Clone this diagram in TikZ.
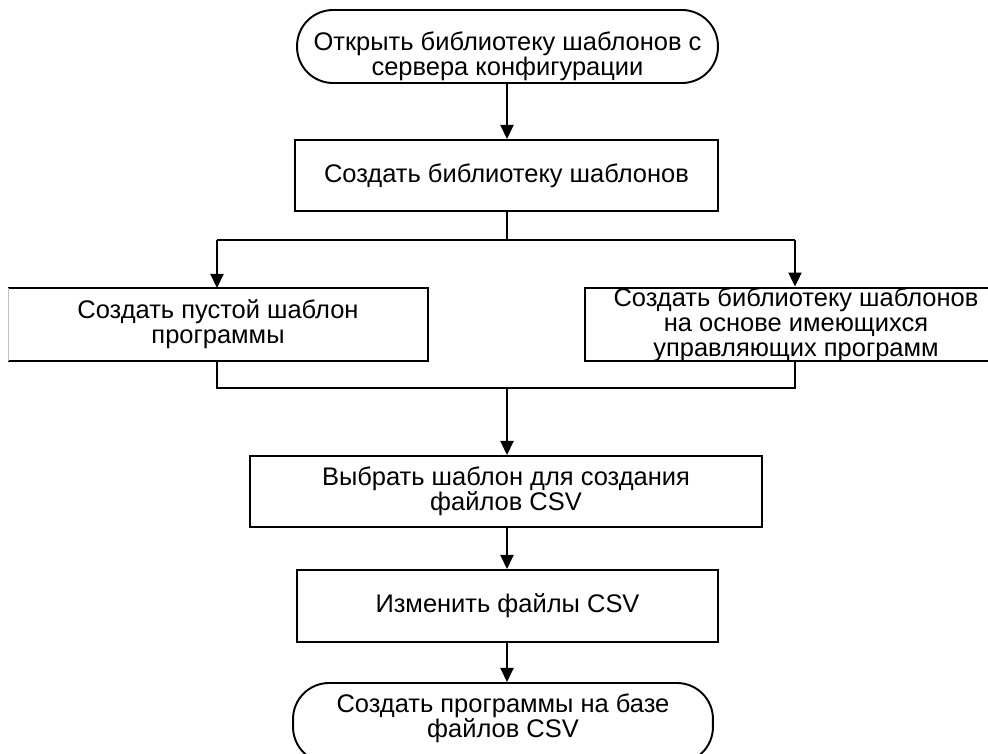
\documentclass[tikz,border=0pt]{standalone}
\usepackage{fontspec}
\setmainfont{Liberation Sans}
\usetikzlibrary{arrows.meta}
\tikzset{
  base/.style={font=\fontsize{14.5}{14.2}\selectfont, align=center, inner sep=0pt, line width=1.1pt},
  txt/.style={font=\fontsize{14.5}{14.2}\selectfont, align=center, inner sep=0pt},
  boxnode/.style={base, draw, rectangle},
  termnode/.style={base, draw, rectangle, rounded corners=0.72cm},
  conn/.style={line width=1.1pt},
  arr/.style={conn, -{Triangle[width=7.4pt,length=8pt]}}
}
\begin{document}
\begin{tikzpicture}[x=0.02cm,y=-0.02cm]
\useasboundingbox (0,0) rectangle (988,754);
\node[termnode, minimum width=8.42cm, minimum height=1.46cm] (top) at (507.5,46.5) {};
\node[txt, yshift=-0.2cm] (toptext) at (top) {Открыть библиотеку шаблонов с\\сервера конфигурации};
\node[boxnode, minimum width=8.46cm, minimum height=1.42cm] (lib) at (506.5,175.5) {Создать библиотеку шаблонов};
\node[boxnode, draw=none, minimum width=8.36cm, minimum height=1.42cm] (left) at (218,324.5) {Создать пустой шаблон\\программы};
\draw[conn] (left.north west) -- (left.north east) -- (left.south east) -- (left.south west);
\draw[black!25, line width=0.5pt] (left.north west) -- (left.south west);
\node[boxnode, minimum width=8.44cm, minimum height=1.42cm] (right) at (796,324.5) {Создать библиотеку шаблонов\\на основе имеющихся\\управляющих программ};
\node[boxnode, minimum width=10.24cm, minimum height=1.42cm] (choose) at (506,491.5) {Выбрать шаблон для создания\\файлов CSV};
\node[boxnode, minimum width=8.42cm, minimum height=1.44cm] (edit) at (507.5,606) {Изменить файлы CSV};
\node[termnode, minimum width=8.4cm, minimum height=1.6cm] (end) at (503,723) {};
\node[txt, yshift=0.09cm] (endtext) at (end) {Создать программы на базе\\файлов CSV};
\coordinate (split) at (507,240);
\coordinate (splitL) at (217,240);
\coordinate (splitR) at (795,240);
\coordinate (joinL) at (217,388);
\coordinate (joinR) at (795,388);
\coordinate (join) at (507,388);
\draw[arr] (top.south -| split) -- (lib.north -| split);
\draw[conn] (lib.south -| split) -- (split);
\draw[conn] (splitL) -- (splitR);
\draw[arr] (splitL) -- (left.north -| splitL);
\draw[arr] (splitR) -- (right.north -| splitR);
\draw[conn] (left.south -| joinL) -- (joinL) -- (joinR) -- (right.south -| joinR);
\draw[arr] (join) -- (choose.north -| join);
\draw[arr] (choose.south -| join) -- (edit.north -| join);
\draw[arr] (edit.south -| join) -- (end.north -| join);
\end{tikzpicture}
\end{document}
